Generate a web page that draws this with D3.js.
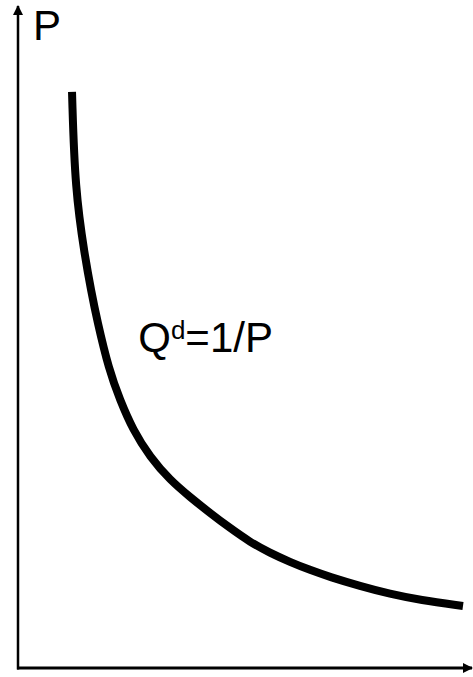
<!DOCTYPE html>
<html>
<head>
<meta charset="utf-8">
<script src="https://cdn.jsdelivr.net/npm/d3@7"></script>
<style>
  html, body { margin: 0; padding: 0; background: #fff; }
  svg { display: block; font-family: Arial, "Liberation Sans", sans-serif; }
</style>
</head>
<body>
<svg id="viz" width="473" height="677"></svg>
<script>
"use strict";
// demand curve (quantity, price in 0..100 units)
const quantity = [11.95, 12.61, 14.82, 16.15, 17.48, 20.13, 22.57, 25.44, 29.20, 33.63, 38.05, 42.48, 46.90, 51.33, 55.75, 60.18, 64.60, 69.03, 75.66, 82.30, 88.94, 98.45];
const price    = [88.89, 73.77, 63.43, 58.33, 53.70, 45.99, 41.36, 36.73, 32.56, 29.01, 26.39, 23.92, 21.60, 19.44, 17.75, 16.36, 15.12, 14.04, 12.65, 11.42, 10.49, 9.57];
const axisLabelY = "P";
const curveLabel = { main: "Q", sup: "d", rest: "=1/P", q: 26.6, p: 48.8 };

const svg = d3.select("#viz");
const origin = { x: 18, y: 668 };

let xScale = d3.scaleLinear().domain([0, 100]).range([origin.x, 470]),
    yScale = d3.scaleLinear().domain([0, 100]).range([origin.y, 20]);

let defs = svg.append("defs");
defs.append("marker")
    .attr("id", "arrow")
    .attr("viewBox", "0 0 10 10")
    .attr("refX", 9).attr("refY", 5)
    .attr("markerWidth", 12).attr("markerHeight", 10)
    .attr("markerUnits", "userSpaceOnUse")
    .attr("orient", "auto")
    .append("path")
    .attr("d", "M0,0 L10,5 L0,10 Z")
    .attr("fill", "#000");

// y axis
svg.append("line")
    .attr("x1", origin.x).attr("y1", origin.y + 1.5)
    .attr("x2", origin.x).attr("y2", 6)
    .attr("stroke", "#000").attr("stroke-width", 2.5)
    .attr("marker-end", "url(#arrow)");

// x axis
svg.append("line")
    .attr("x1", origin.x - 1).attr("y1", origin.y)
    .attr("x2", 472).attr("y2", origin.y)
    .attr("stroke", "#000").attr("stroke-width", 3)
    .attr("marker-end", "url(#arrow)");

svg.append("text")
    .attr("x", 33).attr("y", 40)
    .attr("font-size", 42)
    .text(axisLabelY);

let pts = quantity.map((q, i) => [q, price[i]]);
let line = d3.line()
    .x(d => xScale(d[0]))
    .y(d => yScale(d[1]))
    .curve(d3.curveBasis);

svg.append("path")
    .datum(pts)
    .attr("d", line)
    .attr("fill", "none")
    .attr("stroke", "#000")
    .attr("stroke-width", 8);

let lbl = svg.append("text")
    .attr("x", xScale(curveLabel.q)).attr("y", yScale(curveLabel.p))
    .attr("font-size", 42);
lbl.append("tspan").text(curveLabel.main);
lbl.append("tspan").attr("font-size", 26).attr("dy", -13).text(curveLabel.sup);
lbl.append("tspan").attr("dy", 13).text(curveLabel.rest);
</script>
</body>
</html>
